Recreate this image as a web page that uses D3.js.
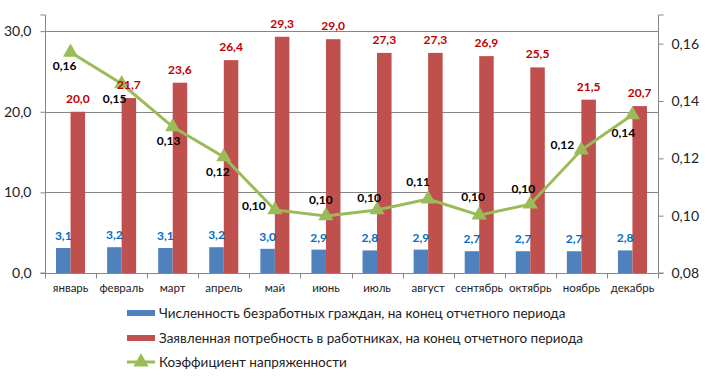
<!DOCTYPE html>
<html><head><meta charset="utf-8">
<script src="https://cdn.jsdelivr.net/npm/d3@7"></script>
<style>body{margin:0;background:#fff}svg{display:block}text{font-family:Lato,"Open Sans",sans-serif}</style>
</head><body>
<svg id="c" width="707" height="382"></svg>
<script>
const months = ["январь","февраль","март","апрель","май","июнь","июль","август","сентябрь","октябрь","ноябрь","декабрь"];
const unemployed = [3.1,3.2,3.1,3.2,3.0,2.9,2.8,2.9,2.7,2.7,2.7,2.8];
const demand = [20.0,21.7,23.6,26.4,29.3,29.0,27.3,27.3,26.9,25.5,21.5,20.7];
const tension = [0.157,0.146,0.131,0.1205,0.102,0.0999,0.102,0.1058,0.1002,0.104,0.1229,0.1352];
const leftTicks = [0,10,20,30];
const rightTicks = [0.08,0.10,0.12,0.14,0.16];
const seriesNames = ["Численность безработных граждан, на конец отчетного периода","Заявленная потребность в работниках, на конец отчетного периода","Коэффициент напряженности"];
// label placement offsets for line labels (layout only)
const lineLabelOffsets = [[-6,14],[-7,15],[-4,14],[-6,15],[-21,-4],[-5,-16],[-8,-12],[-10,-17],[-6,-18],[-7,-15],[-19,-5],[-9,18]];

const svg = d3.select("#c");
const L=45,R=658,T=15,B=273;
const x = d3.scaleBand().domain(months).range([L,R]).padding(0);
const yL = d3.scaleLinear().domain([0,32]).range([B,T]);
const yR = d3.scaleLinear().domain([0.08,0.17]).range([B,T]);
const inner = d3.scaleBand().domain(["u","d"]).range([-x.bandwidth()*0.284, x.bandwidth()*0.284]);
const fmt = v => d3.format(".1f")(v).replace(".",",");
const fmt2 = v => d3.format(".2f")(v).replace(".",",");
const grid = "#868686";

// gridlines
svg.append("g").selectAll("line").data(leftTicks.filter(d=>d>0)).join("line")
  .attr("x1",L).attr("x2",R).attr("y1",d=>Math.round(yL(d))+0.5).attr("y2",d=>Math.round(yL(d))+0.5)
  .attr("stroke",grid).attr("stroke-width",1);

// bars
const cx = m => x(m)+x.bandwidth()/2;
svg.append("g").selectAll("rect").data(unemployed).join("rect")
  .attr("x",(d,i)=>cx(months[i])+inner("u")).attr("width",inner.bandwidth())
  .attr("y",d=>yL(d)).attr("height",d=>B-yL(d)).attr("fill","#4F81BD");
svg.append("g").selectAll("rect").data(demand).join("rect")
  .attr("x",(d,i)=>cx(months[i])+inner("d")).attr("width",inner.bandwidth())
  .attr("y",d=>yL(d)).attr("height",d=>B-yL(d)).attr("fill","#C0504D");

// axes
const axL = svg.append("g").attr("transform",`translate(${L+0.5},0)`)
  .call(d3.axisLeft(yL).tickValues(leftTicks).tickFormat(fmt).tickSize(5).tickPadding(9));
const axR = svg.append("g").attr("transform",`translate(${R+0.5},0)`)
  .call(d3.axisRight(yR).tickValues(rightTicks).tickFormat(fmt2).tickSize(5).tickPadding(8));
const axX = svg.append("g").attr("transform",`translate(0,${B+0.5})`)
  .call(d3.axisBottom(x).tickSize(0).tickPadding(10));
[axL,axR].forEach(a=>{
  a.select(".domain").attr("d",`M${a===axL?-5:5},${T}H0V${B}H${a===axL?-5:5}`).attr("stroke",grid);
  a.selectAll(".tick line").attr("stroke",grid);
  a.selectAll("text").attr("font-size",14).attr("fill","#222");
});
axX.select(".domain").attr("d",`M${L},0H${R}`).attr("stroke",grid);
axX.selectAll("text").attr("font-size",11.5).attr("fill","#222");
axX.append("g").selectAll("line").data(d3.range(months.length+1)).join("line")
  .attr("x1",i=>Math.round(L+i*x.bandwidth())+0.5).attr("x2",i=>Math.round(L+i*x.bandwidth())+0.5)
  .attr("y1",0).attr("y2",5).attr("stroke",grid);

// line
const line = d3.line().x((d,i)=>cx(months[i])).y(d=>yR(d));
svg.append("path").datum(tension).attr("d",line).attr("fill","none").attr("stroke","#9BBB59").attr("stroke-width",3);
const tri = d3.symbol().type(d3.symbolTriangle).size(100);
svg.append("g").selectAll("path").data(tension).join("path")
  .attr("d",tri).attr("transform",(d,i)=>`translate(${cx(months[i])},${yR(d)})`).attr("fill","#9BBB59");

// labels
const lab = svg.append("g").attr("font-weight","bold").attr("font-size",12).attr("text-anchor","middle");
lab.selectAll(".lu").data(unemployed).join("text").attr("class","lu")
  .attr("x",(d,i)=>cx(months[i])+inner("u")+inner.bandwidth()/2).attr("y",d=>yL(d)-8)
  .attr("fill","#0070C0").text(fmt);
lab.selectAll(".ld").data(demand).join("text").attr("class","ld")
  .attr("x",(d,i)=>cx(months[i])+inner("d")+inner.bandwidth()/2).attr("y",d=>yL(d)-9)
  .attr("fill","#C00000").text(fmt);
lab.selectAll(".lt").data(tension).join("text").attr("class","lt")
  .attr("x",(d,i)=>cx(months[i])+lineLabelOffsets[i][0]).attr("y",(d,i)=>yR(d)+lineLabelOffsets[i][1]+4)
  .attr("fill","#000").text(fmt2);

// legend
const lg = svg.append("g").attr("transform","translate(127,0)");
const rows = [313,338,362];
lg.append("rect").attr("x",0).attr("y",rows[0]-3).attr("width",28).attr("height",6).attr("fill","#4F81BD");
lg.append("rect").attr("x",0).attr("y",rows[1]-3).attr("width",28).attr("height",6).attr("fill","#C0504D");
lg.append("line").attr("x1",0).attr("x2",28).attr("y1",rows[2]).attr("y2",rows[2]).attr("stroke","#9BBB59").attr("stroke-width",3);
lg.append("path").attr("d",tri).attr("transform",`translate(14,${rows[2]})`).attr("fill","#9BBB59");
lg.selectAll("text").data(seriesNames).join("text").attr("x",32).attr("y",(d,i)=>rows[i]+5)
  .attr("font-size",13.5).attr("fill","#222").text(d=>d);
</script>
</body></html>
